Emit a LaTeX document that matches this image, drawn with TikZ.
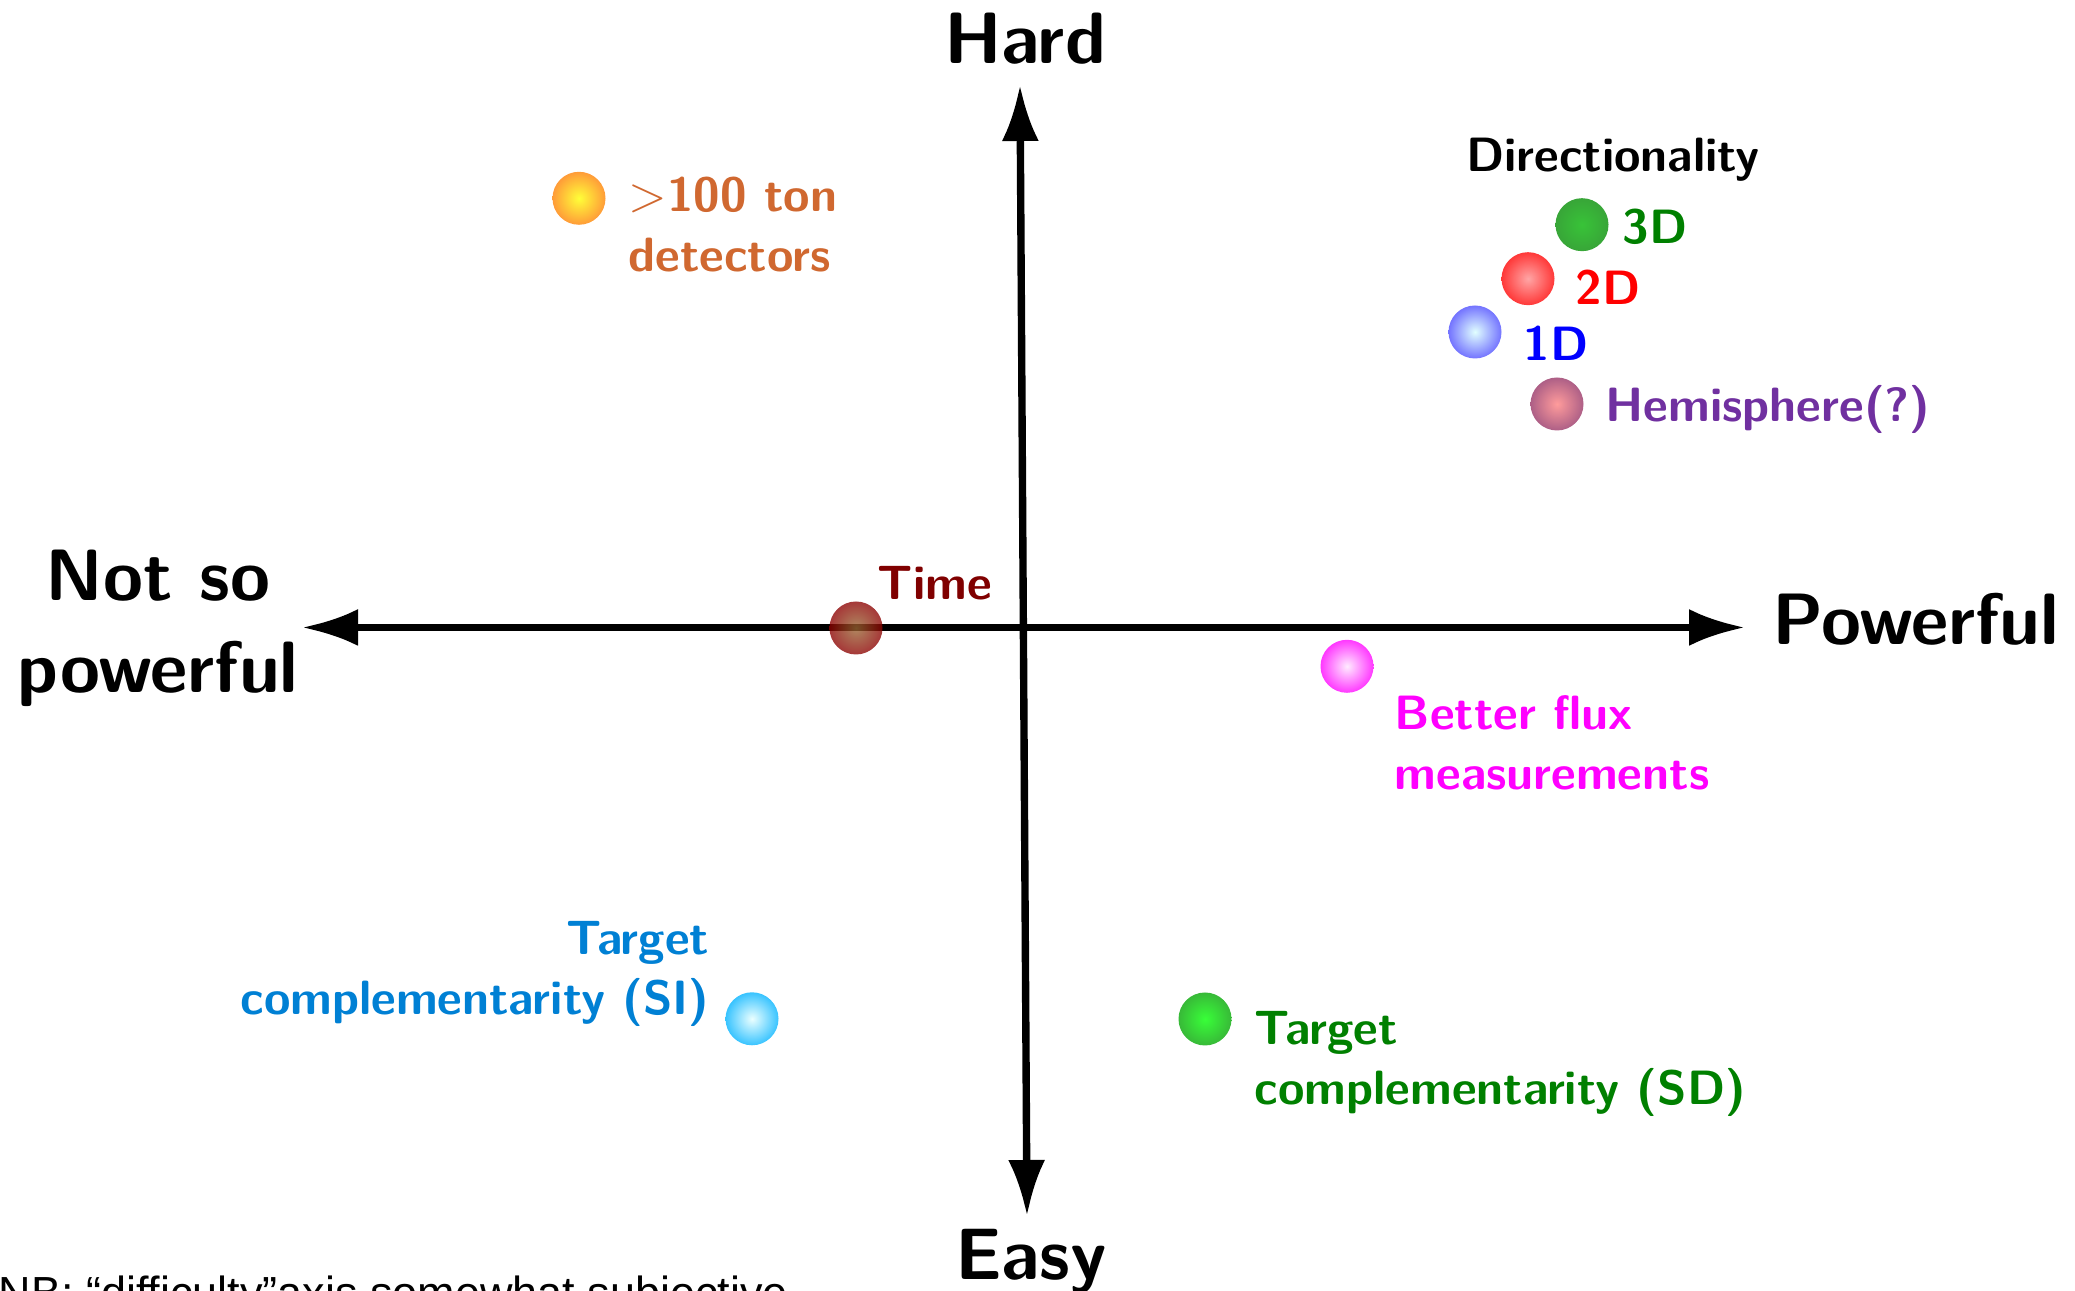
\documentclass[tikz,border=0pt]{standalone}
\usepackage{fontspec}
\newfontfamily\notafont{Liberation Sans}
\usetikzlibrary{arrows.meta}

% colori delle etichette
\definecolor{arancio}{RGB}{208,104,48}
\definecolor{verde}{RGB}{0,128,0}
\definecolor{viola}{RGB}{112,48,160}
\definecolor{marrone}{RGB}{128,0,0}
\definecolor{azzurro}{RGB}{0,128,212}
\definecolor{fucsia}{RGB}{255,0,255}
\definecolor{malva}{RGB}{150,50,100}

\tikzset{
  asse/.style={line width=2.1pt, {Latex[length=5.6mm,width=3.7mm]}-{Latex[length=5.6mm,width=3.7mm]}},
  grande/.style={font=\sffamily\bfseries\fontsize{20.7}{26.4}\selectfont, inner sep=0pt},
  etichetta/.style={font=\sffamily\bfseries\fontsize{13.7}{17.1}\selectfont, inner sep=0pt},
  sfera/.style 2 args={circle, minimum size=5.3mm, inner sep=0pt, draw=none,
    inner color=#1, outer color=#2, opacity=0.78},
}

\begin{document}
\begin{tikzpicture}

\useasboundingbox (0,0) rectangle (20.75,12.91);

% assi
\coordinate (sx) at (3.02,6.635);
\coordinate (dx) at (17.45,6.635);
\coordinate (su) at (10.20,12.06);
\coordinate (giu) at (10.27,0.75);
\draw[asse] (sx) -- (dx);
\draw[asse] (giu) -- (su);

% nomi degli assi
\node[grande, anchor=base] (hard) at (10.25,12.277) {Hard};
\node[grande, anchor=base] (easy) at (10.31,0.11) {Easy};
\node[grande, anchor=base west] (pow) at (17.72,6.46) {Powerful};
\node[grande, anchor=base, align=center] (notpow) at (1.58,5.98) {Not so\\powerful};

% sfere
\node[sfera={yellow}{orange}] (p-ton) at (5.79,10.927) {};
\node[sfera={green!70!black}{green!55!black}] (p-3d) at (15.82,10.663) {};
\node[sfera={red!45}{red}] (p-2d) at (15.28,10.123) {};
\node[sfera={cyan!15}{blue!70}] (p-1d) at (14.75,9.59) {};
\node[sfera={red!50}{malva}] (p-emi) at (15.57,8.87) {};
\node[sfera={brown!80!black}{red!55!black}] (p-time) at (8.56,6.63) {};
\node[sfera={fucsia!10}{fucsia}] (p-flux) at (13.47,6.247) {};
\node[sfera={cyan!10}{cyan!70!blue}] (p-si) at (7.52,2.722) {};
\node[sfera={green}{green!65!black}] (p-sd) at (12.05,2.72) {};

% etichette
\node[etichetta, arancio, anchor=base west, align=left] (l-ton) at (6.28,10.193) {$>$100 ton\\detectors};
\node[etichetta, anchor=base] (l-dir) at (16.13,11.193) {Directionality};
\node[etichetta, verde, anchor=base west] (l-3d) at (16.22,10.477) {3D};
\node[etichetta, red, anchor=base west] (l-2d) at (15.75,9.86) {2D};
\node[etichetta, blue, anchor=base west] (l-1d) at (15.23,9.303) {1D};
\node[etichetta, viola, anchor=base west] (l-emi) at (16.05,8.693) {Hemisphere(?)};
\node[etichetta, marrone, anchor=base west] (l-time) at (8.77,6.91) {Time};
\node[etichetta, fucsia, anchor=base west, align=left] (l-flux) at (13.94,5.01) {Better flux\\measurements};
\node[etichetta, azzurro, anchor=base east, align=right] (l-si) at (7.10,2.76) {Target\\complementarity (SI)};
\node[etichetta, verde, anchor=base west, align=left] (l-sd) at (12.54,1.86) {Target\\complementarity (SD)};

% nota in fondo
\node[anchor=base west, inner sep=0pt, font=\notafont\fontsize{12.8}{15}\selectfont] (nota) at (-0.02,-0.18) {NB: “difficulty”axis somewhat subjective};

\end{tikzpicture}
\end{document}
